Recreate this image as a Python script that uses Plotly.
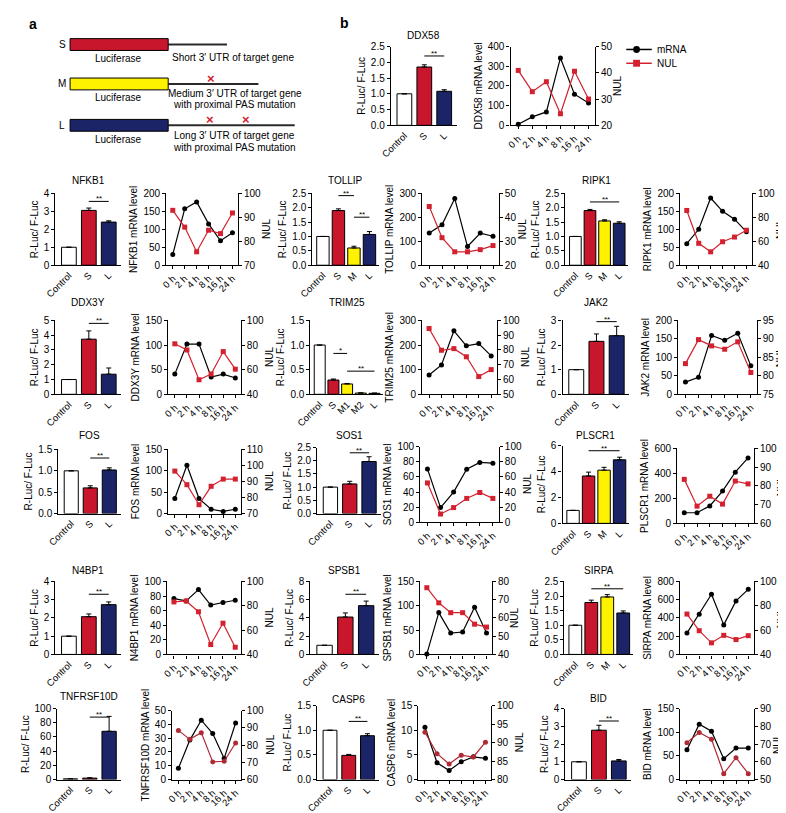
import plotly.graph_objects as go

W, H = 786, 813
FONT = "Liberation Sans, Arial, Helvetica, sans-serif"

# ---------------- data ----------------
times = ["0 h", "2 h", "4 h", "8 h", "16 h", "24 h"]

ddx58_groups = ["Control", "S", "L"]
ddx58_luc = [1.0, 1.85, 1.08]
ddx58_err = [0.0, 0.07, 0.05]
ddx58_sig = [("S", "L", 2.2, "**")]
ddx58_mrna = [5, 43, 68, 342, 158, 113]
ddx58_nul = [40.9, 32.8, 36.6, 24.4, 40.6, 30.0]

nfkb1_groups = ["Control", "S", "L"]
nfkb1_luc = [1.0, 3.05, 2.4]
nfkb1_err = [0.0, 0.13, 0.07]
nfkb1_sig = [("S", "L", 3.55, "**")]
nfkb1_mrna = [30, 157, 176, 115, 68, 90]
nfkb1_nul = [92.9, 85.9, 75.6, 84.6, 83.2, 91.8]

tollip_groups = ["Control", "S", "M", "L"]
tollip_luc = [1.0, 1.9, 0.6, 1.07]
tollip_err = [0.0, 0.06, 0.06, 0.1]
tollip_sig = [("S", "M", 2.42, "**"), ("M", "L", 1.67, "**")]
tollip_mrna = [134, 169, 278, 78, 134, 121]
tollip_nul = [44.5, 31.5, 25.6, 25.6, 26.5, 28.2]

ripk1_groups = ["Control", "S", "M", "L"]
ripk1_luc = [1.0, 1.9, 1.54, 1.46]
ripk1_err = [0.0, 0.04, 0.04, 0.05]
ripk1_sig = [("S", "L", 2.2, "**")]
ripk1_mrna = [60, 100, 187, 150, 128, 93]
ripk1_nul = [85.7, 58.3, 51.2, 59.6, 63.5, 69.2]

ddx3y_groups = ["Control", "S", "L"]
ddx3y_luc = [1.0, 3.73, 1.36]
ddx3y_err = [0.0, 0.56, 0.42]
ddx3y_sig = [("S", "L", 4.8, "**")]
ddx3y_mrna = [41, 102, 102, 35, 41, 33]
ddx3y_nul = [81.0, 76.0, 51.8, 56.5, 74.7, 60.4]

trim25_groups = ["Control", "S", "M1", "M2", "L"]
trim25_luc = [1.0, 0.29, 0.21, 0.025, 0.02]
trim25_err = [0.0, 0.02, 0.01, 0.005, 0.005]
trim25_sig = [("S", "M1", 0.83, "*"), ("M1", "L", 0.47, "**")]
trim25_mrna = [78, 119, 258, 197, 206, 156]
trim25_nul = [94.5, 79.8, 80.9, 75.4, 62.0, 66.7]

jak2_groups = ["Control", "S", "L"]
jak2_luc = [1.0, 2.15, 2.38]
jak2_err = [0.0, 0.3, 0.38]
jak2_sig = [("S", "L", 2.95, "**")]
jak2_mrna = [33, 46, 159, 146, 165, 77]
jak2_nul = [83.3, 89.8, 88.1, 87.2, 89.2, 80.9]

fos_groups = ["Control", "S", "L"]
fos_luc = [1.0, 0.6, 1.02]
fos_err = [0.0, 0.05, 0.05]
fos_sig = [("S", "L", 1.3, "**")]
fos_mrna = [35, 113, 35, 10, 5, 10]
fos_nul = [96.5, 88.0, 75.5, 87.0, 91.5, 91.5]

sos1_groups = ["Control", "S", "L"]
sos1_luc = [1.0, 1.12, 1.97]
sos1_err = [0.0, 0.1, 0.18]
sos1_sig = [("S", "L", 2.3, "**")]
sos1_mrna = [70.5, 19.5, 40, 70, 79, 78]
sos1_nul = [52.0, 11.0, 19.5, 31.6, 39.4, 31.6]

plscr1_groups = ["Control", "S", "M", "L"]
plscr1_luc = [1.0, 3.65, 4.1, 4.9]
plscr1_err = [0.0, 0.3, 0.22, 0.2]
plscr1_sig = [("S", "L", 5.6, "**")]
plscr1_mrna = [85, 85, 140, 259, 410, 524]
plscr1_nul = [83.5, 69.2, 74.5, 70.3, 82.6, 81.1]

n4bp1_groups = ["Control", "S", "L"]
n4bp1_luc = [1.0, 2.07, 2.73]
n4bp1_err = [0.0, 0.15, 0.15]
n4bp1_sig = [("S", "L", 3.3, "**")]
n4bp1_mrna = [76.6, 73.4, 89, 67.6, 71.2, 74.3]
n4bp1_nul = [83.2, 84.0, 75.1, 48.1, 65.7, 45.9]

spsb1_groups = ["Control", "S", "L"]
spsb1_luc = [1.0, 4.1, 5.35]
spsb1_err = [0.0, 0.45, 0.5]
spsb1_sig = [("S", "L", 6.6, "**")]
spsb1_mrna = [1, 86, 44, 46, 97, 44]
spsb1_nul = [76.6, 68.3, 62.9, 62.9, 56.6, 55.0]

sirpa_groups = ["Control", "S", "M", "L"]
sirpa_luc = [1.0, 1.78, 1.97, 1.42]
sirpa_err = [0.0, 0.08, 0.08, 0.07]
sirpa_sig = [("S", "L", 2.25, "**")]
sirpa_mrna = [234, 440, 660, 324, 587, 714]
sirpa_nul = [73.2, 59.5, 49.5, 55.7, 52.2, 55.4]

tnfrsf10d_groups = ["Control", "S", "L"]
tnfrsf10d_luc = [1.0, 2.0, 68.0]
tnfrsf10d_err = [0.0, 0.5, 21.0]
tnfrsf10d_sig = [("S", "L", 88, "**")]
tnfrsf10d_mrna = [8.1, 28.6, 43, 33.3, 15.3, 41]
tnfrsf10d_nul = [88.5, 83.3, 87.2, 70.2, 70.6, 81.2]

casp6_groups = ["Control", "S", "L"]
casp6_luc = [1.0, 0.49, 0.89]
casp6_err = [0.0, 0.02, 0.04]
casp6_sig = [("S", "L", 1.18, "**")]
casp6_mrna = [10.6, 3.4, 1.85, 3.6, 4.6, 4.3]
casp6_nul = [92.8, 87.0, 84.2, 86.6, 86.1, 90.1]

bid_groups = ["Control", "S", "L"]
bid_luc = [1.0, 2.78, 1.05]
bid_err = [0.0, 0.28, 0.08]
bid_sig = [("S", "L", 3.3, "**")]
bid_mrna = [63, 117, 102, 44, 66.5, 66.5]
bid_nul = [70.8, 76.5, 72.7, 53.3, 62.3, 53.3]

constructs = ["S", "M", "L"]
construct_utr = [
    ["Short 3\u2032 UTR of target gene"],
    ["Medium 3\u2032 UTR of target gene", "with proximal PAS mutation"],
    ["Long 3\u2032 UTR of target gene", "with proximal PAS mutation"],
]

# ---------------- styles ----------------
RED = "#c8162d"
NAVY = "#1b2466"
YELLOW = "#fff200"
NUL_RED = "#d3212f"
NUL_DARK = "#b02a35"
GROUP_COLORS = {"Control": "white", "S": RED, "M": YELLOW, "M1": YELLOW, "M2": YELLOW, "L": NAVY}

fig = go.Figure()
layout = {}
shapes = []
annotations = []
cnt = {"x": 0, "y": 0}


def new(p):
    cnt[p] += 1
    return cnt[p]


def key(p, i):
    return f"{p}axis" + ("" if i == 1 else str(i))


def ref(p, i):
    return p + ("" if i == 1 else str(i))


def fx(px):
    return px / W


def fy(py):
    return 1 - py / H


BASE = dict(showline=True, linecolor="black", linewidth=1.2, ticks="outside", tickcolor="black",
            ticklen=3, tickwidth=1, showgrid=False, zeroline=False, fixedrange=True,
            tickfont=dict(size=10, color="black", family=FONT))
XTICK_FONT = dict(size=9.5, color="black", family=FONT)
TITLE_FONT = dict(size=10, color="black", family=FONT)


def text(x, y, s, size=10, color="black", xanchor="center", yanchor="middle", angle=0, bold=False):
    annotations.append(dict(x=fx(x), y=fy(y), xref="paper", yref="paper", text=(f"<b>{s}</b>" if bold else s),
                            showarrow=False, xanchor=xanchor, yanchor=yanchor, textangle=angle,
                            font=dict(size=size, color=color, family=FONT)))


def bar_panel(title, groups, vals, errs, sigs, xb, yb, yrange, dtick, fmt, title_y):
    xi, yi = new("x"), new("y")
    n = len(groups)
    idx = list(range(n))
    fig.add_trace(go.Bar(
        x=idx, y=vals, width=0.74 if n <= 3 else 0.8,
        marker=dict(color=[GROUP_COLORS[g] for g in groups], line=dict(color="black", width=1)),
        error_y=dict(type="data", array=errs, arrayminus=[0] * n, symmetric=False,
                     color="black", thickness=1, width=2.5),
        xaxis=ref("x", xi), yaxis=ref("y", yi), showlegend=False, hoverinfo="skip"))
    layout[key("x", xi)] = dict(BASE, domain=[fx(xb[0]), fx(xb[1])], anchor=ref("y", yi),
                                range=[-0.68, n - 0.38], tickmode="array", tickvals=idx, ticktext=groups,
                                tickangle=-45, ticks="", tickfont=XTICK_FONT)
    layout[key("y", yi)] = dict(BASE, domain=[fy(yb[1]), fy(yb[0])], anchor=ref("x", xi),
                                range=yrange, dtick=dtick, tick0=0, tickformat=fmt,
                                title=dict(text="R-Luc/ F-Luc", font=TITLE_FONT, standoff=3))
    for a, b, h, s in sigs:
        i1, i2 = groups.index(a), groups.index(b)
        shapes.append(dict(type="line", xref=ref("x", xi), yref=ref("y", yi), x0=i1, x1=i2, y0=h, y1=h,
                           line=dict(color="black", width=1)))
        annotations.append(dict(x=(i1 + i2) / 2, y=h, xref=ref("x", xi), yref=ref("y", yi), text=s,
                                showarrow=False, yanchor="bottom", yshift=-4,
                                font=dict(size=8, color="black", family=FONT)))
    text((xb[0] + xb[1]) / 2, title_y, title)


def line_panel(name, mrna, nul, xb, yb, lrange, ldt, rrange, rdt, dark=False):
    xi, yl, yr = new("x"), new("y"), new("y")
    idx = list(range(len(times)))
    fig.add_trace(go.Scatter(x=idx, y=mrna, mode="lines+markers", name="mRNA",
                             line=dict(color="black", width=1.2),
                             marker=dict(symbol="circle", size=5, color="black"),
                             xaxis=ref("x", xi), yaxis=ref("y", yl), showlegend=False, cliponaxis=False))
    nc = NUL_DARK if dark else NUL_RED
    fig.add_trace(go.Scatter(x=idx, y=nul, mode="lines+markers", name="NUL",
                             line=dict(color=nc, width=1.2),
                             marker=dict(symbol="circle" if dark else "square", size=5, color=nc),
                             xaxis=ref("x", xi), yaxis=ref("y", yr), showlegend=False, cliponaxis=False))
    layout[key("x", xi)] = dict(BASE, domain=[fx(xb[0]), fx(xb[1])], anchor=ref("y", yl),
                                range=[-0.55, 5.45], tickmode="array", tickvals=idx, ticktext=times,
                                tickangle=-45, tickfont=XTICK_FONT)
    layout[key("y", yl)] = dict(BASE, domain=[fy(yb[1]), fy(yb[0])], anchor=ref("x", xi),
                                range=lrange, dtick=ldt, tick0=0,
                                title=dict(text=f"{name} mRNA level", font=TITLE_FONT, standoff=3))
    layout[key("y", yr)] = dict(BASE, overlaying=ref("y", yl), side="right", anchor=ref("x", xi),
                                range=rrange, dtick=rdt, tick0=0)
    # right-axis title placed beside its tick labels, kept inside the page
    nchar = max(len(str(int(rrange[0]))), len(str(int(rrange[1]))))
    tx = min(xb[1] + 12 + 5.8 * nchar, W - 12)
    text(tx, (yb[0] + yb[1]) / 2, "NUL", angle=-90)


# ---------------- panels ----------------
bar_panel("DDX58", ddx58_groups, ddx58_luc, ddx58_err, ddx58_sig, (375, 442), (33, 113), [0, 2.5], 0.5, ".1f", 22)
line_panel("DDX58", ddx58_mrna, ddx58_nul, (497, 583), (33, 113), [0, 400], 100, [20, 50], 10)

bar_panel("NFKB1", nfkb1_groups, nfkb1_luc, nfkb1_err, nfkb1_sig, (33, 100), (182, 255), [0, 4], 1, "d", 169)
line_panel("NFKB1", nfkb1_mrna, nfkb1_nul, (146, 219), (182, 255), [0, 200], 50, [70, 100], 10)
bar_panel("TOLLIP", tollip_groups, tollip_luc, tollip_err, tollip_sig, (295, 363), (182, 255), [0, 2.5], 0.5, ".1f", 169)
line_panel("TOLLIP", tollip_mrna, tollip_nul, (407, 485), (182, 255), [0, 300], 100, [20, 50], 10)
bar_panel("RIPK1", ripk1_groups, ripk1_luc, ripk1_err, ripk1_sig, (553, 617), (182, 255), [0, 2.5], 0.5, ".1f", 169)
line_panel("RIPK1", ripk1_mrna, ripk1_nul, (670, 743), (182, 255), [0, 200], 50, [40, 100], 20)

bar_panel("DDX3Y", ddx3y_groups, ddx3y_luc, ddx3y_err, ddx3y_sig, (33, 100), (311, 386), [0, 5], 1, "d", 293)
line_panel("DDX3Y", ddx3y_mrna, ddx3y_nul, (148, 222), (311, 386), [0, 150], 50, [40, 100], 20)
bar_panel("TRIM25", trim25_groups, trim25_luc, trim25_err, trim25_sig, (293, 367), (311, 386), [0, 1.5], 0.5, ".1f", 293)
line_panel("TRIM25", trim25_mrna, trim25_nul, (407, 483), (311, 386), [0, 300], 100, [50, 100], 10)
bar_panel("JAK2", jak2_groups, jak2_luc, jak2_err, jak2_sig, (550, 618), (311, 386), [0, 3], 1, "d", 293)
line_panel("JAK2", jak2_mrna, jak2_nul, (668, 748), (311, 386), [0, 200], 50, [75, 95], 5)

bar_panel("FOS", fos_groups, fos_luc, fos_err, fos_sig, (36, 100), (442, 507), [0, 1.5], 0.5, ".1f", 428)
line_panel("FOS", fos_mrna, fos_nul, (148, 222), (442, 507), [0, 150], 50, [70, 110], 10)
bar_panel("SOS1", sos1_groups, sos1_luc, sos1_err, sos1_sig, (300, 365), (440, 507), [0, 2.5], 0.5, ".1f", 428)
line_panel("SOS1", sos1_mrna, sos1_nul, (405, 485), (439, 516), [0, 100], 20, [0, 100], 20)
bar_panel("PLSCR1", plscr1_groups, plscr1_luc, plscr1_err, plscr1_sig, (550, 618), (438, 517), [0, 6], 2, "d", 428)
line_panel("PLSCR1", plscr1_mrna, plscr1_nul, (667, 745), (441, 517), [0, 600], 200, [60, 100], 10)

bar_panel("N4BP1", n4bp1_groups, n4bp1_luc, n4bp1_err, n4bp1_sig, (33, 100), (576, 650), [0, 4], 1, "d", 565)
line_panel("N4BP1", n4bp1_mrna, n4bp1_nul, (147, 222), (576, 650), [0, 100], 20, [40, 100], 20)
bar_panel("SPSB1", spsb1_groups, spsb1_luc, spsb1_err, spsb1_sig, (293, 363), (576, 650), [0, 8], 2, "d", 565)
line_panel("SPSB1", spsb1_mrna, spsb1_nul, (405, 478), (576, 650), [0, 150], 50, [40, 80], 10)
bar_panel("SIRPA", sirpa_groups, sirpa_luc, sirpa_err, sirpa_sig, (552, 622), (576, 650), [0, 2.5], 0.5, ".1f", 565)
line_panel("SIRPA", sirpa_mrna, sirpa_nul, (670, 745), (576, 650), [0, 800], 200, [40, 100], 20)

bar_panel("TNFRSF10D", tnfrsf10d_groups, tnfrsf10d_luc, tnfrsf10d_err, tnfrsf10d_sig, (35, 100), (705, 777), [0, 100], 20, "d", 693)
line_panel("TNFRSF10D", tnfrsf10d_mrna, tnfrsf10d_nul, (152, 222), (707, 777), [0, 50], 10, [60, 100], 10, dark=True)
bar_panel("CASP6", casp6_groups, casp6_luc, casp6_err, casp6_sig, (300, 363), (702, 777), [0, 1.5], 0.5, ".1f", 696)
line_panel("CASP6", casp6_mrna, casp6_nul, (403, 477), (702, 777), [0, 15], 5, [80, 100], 5, dark=True)
bar_panel("BID", bid_groups, bid_luc, bid_err, bid_sig, (553, 620), (705, 777), [0, 4], 1, "d", 695)
line_panel("BID", bid_mrna, bid_nul, (670, 745), (705, 777), [0, 150], 50, [50, 90], 10, dark=True)

# ---------------- legend (drawn) ----------------
for (lbl, col, sym), yy in zip([("mRNA", "black", "circle"), ("NUL", NUL_RED, "rect")], (36, 50)):
    shapes.append(dict(type="line", xref="paper", yref="paper", x0=fx(615), x1=fx(641), y0=fy(yy), y1=fy(yy),
                       line=dict(color=col, width=1.5)))
    shapes.append(dict(type=sym, xref="paper", yref="paper",
                       x0=fx(622), x1=fx(629), y0=fy(yy + 3.5), y1=fy(yy - 3.5),
                       fillcolor=col, line=dict(color=col, width=0)))
    text(644, yy, lbl, xanchor="left")

# ---------------- schematic (panel a) ----------------
box_colors = {"S": RED, "M": YELLOW, "L": NAVY}
row_y = {"S": 31, "M": 71, "L": 113}
utr_end = {"S": 208, "M": 240, "L": 277}
utr_text_y = {"S": [44], "M": [81, 92], "L": [123, 135]}
mut_x = {"S": [], "M": [192], "L": [191, 227]}
for c, lines in zip(constructs, construct_utr):
    yc = row_y[c]
    shapes.append(dict(type="line", xref="paper", yref="paper", x0=fx(148), x1=fx(utr_end[c]),
                       y0=fy(yc), y1=fy(yc), line=dict(color="#2a2a2a", width=2)))
    shapes.append(dict(type="rect", xref="paper", yref="paper", x0=fx(48), x1=fx(148),
                       y0=fy(yc + 6), y1=fy(yc - 6), fillcolor=box_colors[c], line=dict(color="black", width=1)))
    text(40, yc, c)
    text(97, yc + 14, "Luciferase")
    for ln, ty in zip(lines, utr_text_y[c]):
        if c == "S":
            text(150, ty, ln, xanchor="left")
        else:
            text(216, ty, ln)
    for mx in mut_x[c]:
        text(mx, yc - 6, "\u00d7", size=13, color=NUL_RED, bold=True)

text(4, 10, "a", size=14, xanchor="left", bold=True)
text(321, 9, "b", size=14, xanchor="left", bold=True)

fig.update_layout(**layout)
fig.update_layout(width=W, height=H, margin=dict(l=0, r=0, t=0, b=0), paper_bgcolor="white",
                  plot_bgcolor="white", shapes=shapes, annotations=annotations, showlegend=False,
                  font=dict(family=FONT, size=10, color="black"), bargap=0.2)
fig.write_html("out.html")
